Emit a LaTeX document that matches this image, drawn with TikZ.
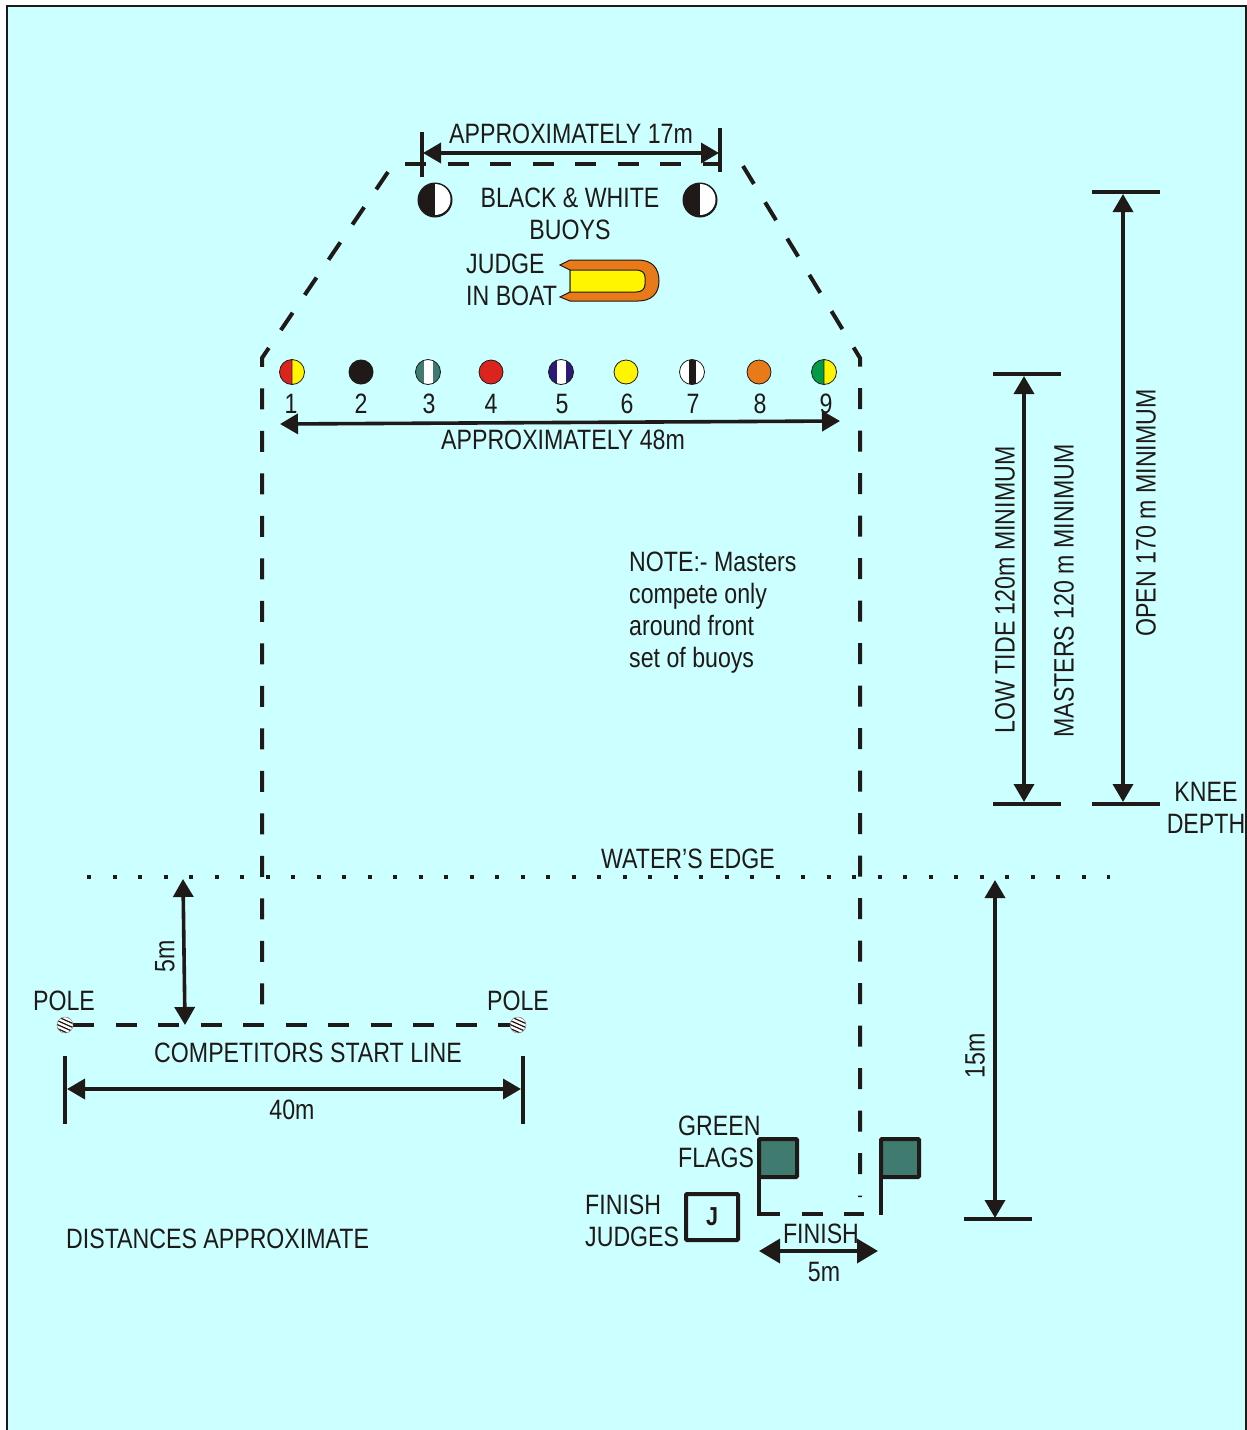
\documentclass[tikz,border=0pt]{standalone}
\usepackage{fontspec}
\setmainfont[FakeStretch=0.827]{Liberation Sans}
\usetikzlibrary{arrows.meta}
\definecolor{seacol}{HTML}{CCFFFF}
\definecolor{inkcol}{HTML}{1F1A17}
\definecolor{redcol}{HTML}{DC241F}
\definecolor{yellowcol}{HTML}{FFF500}
\definecolor{tealcol}{HTML}{3F7B6F}
\definecolor{navycol}{HTML}{2B1A78}
\definecolor{orangecol}{HTML}{E87A1A}
\definecolor{greencol}{HTML}{009B48}
\tikzset{
  lbl/.style={inner sep=0pt,text=inkcol,font=\fontsize{28}{32}\selectfont},
  course/.style={line width=4pt,draw=inkcol,dash pattern=on 21pt off 21.5pt},
  dim/.style={line width=3.6pt,draw=inkcol,{Triangle[length=18pt,width=20pt]}-{Triangle[length=18pt,width=20pt]}},
  bar/.style={line width=4.4pt,draw=inkcol},
  flag/.style={line width=4pt,draw=inkcol,fill=tealcol,rounded corners=1pt},
}
% x y stripe width ground stripe
\newcommand{\stripebuoy}[5]{
  \fill[#4] (#1,#2) circle (12.5);
  \begin{scope}
    \clip (#1,#2) circle (12.5);
    \fill[#5] (#1-#3,#2-13) rectangle (#1+#3,#2+13);
  \end{scope}
  \draw[inkcol,line width=0.8pt] (#1,#2) circle (12.5);
}
% x y left right
\newcommand{\halfbuoy}[4]{
  \begin{scope}
    \clip (#1-13,#2-13) rectangle (#1,#2+13);
    \fill[#3] (#1,#2) circle (12.5);
  \end{scope}
  \begin{scope}
    \clip (#1,#2-13) rectangle (#1+13,#2+13);
    \fill[#4] (#1,#2) circle (12.5);
  \end{scope}
  \draw[inkcol,line width=0.8pt] (#1,#2) circle (12.5) (#1,#2-12.5) -- (#1,#2+12.5);
}
% x y
\newcommand{\polemark}[2]{
  \fill[white] (#1,#2) circle (8);
  \begin{scope}
    \clip (#1,#2) circle (8);
    \foreach \off in {-9,-5,-1,3,7}
      \draw[inkcol,line width=1.2pt] (#1-9,#2+\off-4) -- (#1+9,#2+\off+4);
  \end{scope}
  \draw[inkcol!50,line width=0.5pt] (#1,#2) circle (8);
}
\begin{document}
\begin{tikzpicture}[x=1pt,y=-1pt]
\useasboundingbox (0,0) rectangle (1247,1430);
\fill[seacol] (7,6) rectangle (1246,1430);
\draw[inkcol,line width=1.6pt] (7,1430) -- (7,6) -- (1246,6) -- (1246,1430);

% course outline
\draw[course] (388,172) -- (262,358) -- (262,1006);
\draw[course] (743,166) -- (860,358) -- (860,1197);
\draw[course] (405,164) -- (722,164);
\draw[line width=4pt,inkcol,dash pattern=on 4pt off 21.5pt] (87,877) -- (1110,877);
\draw[course] (73,1025) -- (511,1025);
\draw[course] (759,1214) -- (864,1214);

% 17m
\draw[bar] (422,132) -- (422,177);
\draw[bar] (720,128) -- (720,172);
\draw[dim] (423,153) -- (719,153);
\node[lbl] (width17) at (571,134) {APPROXIMATELY 17m};

% black and white buoys
\fill[inkcol] (435,200) circle (17.5);
\fill[white] (435,184) arc (-90:90:15.5) -- cycle;
\fill[inkcol] (700,200) circle (17.5);
\fill[white] (700,184) arc (-90:90:15.5) -- cycle;
\node[lbl,align=center] (bwbuoys) at (570,214) {BLACK \& WHITE\\BUOYS};

% boat
\node[lbl,align=left,anchor=west] (judgeboat) at (466,280) {JUDGE\\IN BOAT};
\draw[inkcol,line width=1pt,fill=orangecol] (570,260) -- (560,265) -- (570,270) -- (570,292) -- (560,297) -- (570,301)
  -- (638,301) .. controls (652,301) and (659,293) .. (659,281) .. controls (659,268) and (652,260) .. (638,260) -- cycle;
\draw[inkcol,line width=1pt,fill=yellowcol] (570,270) -- (636,270) .. controls (642,270) and (645,273) .. (645,277)
  -- (645,284) .. controls (645,289) and (642,292) .. (636,292) -- (570,292) -- cycle;

% numbered buoys
\halfbuoy{292}{372}{redcol}{yellowcol}
\fill[inkcol] (361,372) circle (12.5);
\stripebuoy{428}{372}{4.5}{tealcol}{white}
\filldraw[draw=inkcol,line width=0.8pt,fill=redcol] (491,372) circle (12);
\stripebuoy{561}{372}{4.5}{navycol}{white}
\filldraw[draw=inkcol,line width=0.8pt,fill=yellowcol] (626,372) circle (12);
\stripebuoy{692}{372}{3.5}{white}{inkcol}
\filldraw[draw=inkcol,line width=0.8pt,fill=orangecol] (759,372) circle (12);
\halfbuoy{824}{372}{greencol}{yellowcol}
\foreach \xpos/\num in {291/1,361/2,429/3,491/4,562/5,627/6,693/7,760/8,826/9}
  \node[lbl] (num\num) at (\xpos,404) {\num};

% 48m
\draw[dim] (280,424) -- (840,421);
\node[lbl] (width48) at (563,440) {APPROXIMATELY 48m};

\node[lbl,align=left,anchor=west] (note) at (629,613) {NOTE:- Masters\\compete only\\around front\\set of buoys};

% depth scales
\draw[bar] (993,374) -- (1061,374);
\draw[bar] (993,804) -- (1061,804);
\draw[dim] (1024,376) -- (1024,802);
\draw[bar] (1092,192) -- (1160,192);
\draw[bar] (1092,804) -- (1160,804);
\draw[dim] (1123,194) -- (1123,802);
\node[lbl,rotate=90] (lowtide) at (1005,590) {LOW TIDE 120m MINIMUM};
\node[lbl,rotate=90] (masters) at (1064,591) {MASTERS 120 m MINIMUM};
\node[lbl,rotate=90] (open) at (1146,513) {OPEN 170 m MINIMUM};
\node[lbl,align=center] (knee) at (1206,808) {KNEE\\DEPTH};
\node[lbl] (waters) at (688,859) {WATER'S EDGE};

% 15m
\draw[dim] (995,880) -- (995,1218);
\draw[bar] (964,1219) -- (1032,1219);
\node[lbl,rotate=90] (dist15) at (975,1056) {15m};

% start line
\draw[dim] (183,879) -- (185,1025);
\node[lbl,rotate=90] (dist5) at (165,956) {5m};
\node[lbl] (poleleft) at (64,1001) {POLE};
\node[lbl] (poleright) at (518,1001) {POLE};
\polemark{65}{1025}
\polemark{518}{1025}
\node[lbl] (startline) at (308,1053) {COMPETITORS START LINE};
\draw[bar] (65,1056) -- (65,1124);
\draw[bar] (523,1056) -- (523,1124);
\draw[dim] (67,1089) -- (521,1089);
\node[lbl] (dist40) at (292,1110) {40m};
\node[lbl,anchor=west] (approx) at (66,1239) {DISTANCES APPROXIMATE};

% finish
\node[lbl,align=left,anchor=west] (greenflags) at (678,1142) {GREEN\\FLAGS};
\draw[flag] (759,1139) rectangle (797,1177);
\draw[flag] (881,1139) rectangle (919,1177);
\draw[bar] (759,1177) -- (759,1216);
\draw[bar] (881,1177) -- (881,1215);
\node[lbl,align=left,anchor=west] (finishjudges) at (585,1221) {FINISH\\JUDGES};
\node[lbl,draw=inkcol,line width=4pt,rounded corners=1pt,minimum width=52pt,minimum height=46pt,font=\fontsize{26}{30}\selectfont\bfseries] (judgebox) at (712,1217) {J};
\node[lbl] (finish) at (821,1234) {FINISH};
\draw[line width=3.6pt,draw=inkcol,{Triangle[length=21pt,width=24pt]}-{Triangle[length=21pt,width=24pt]}] (759,1251) -- (878,1251);
\node[lbl] (dist5b) at (824,1272) {5m};
\end{tikzpicture}
\end{document}
